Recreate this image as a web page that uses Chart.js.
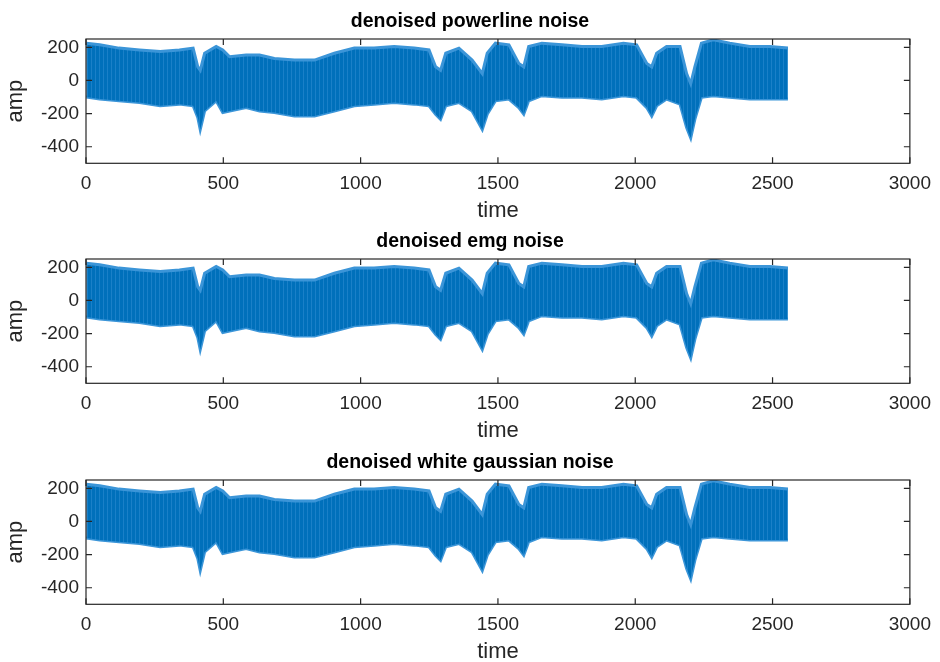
<!DOCTYPE html>
<html>
<head>
<meta charset="utf-8">
<script src="https://cdn.jsdelivr.net/npm/chart.js@4/dist/chart.umd.min.js"></script>
<style>
  html, body { margin: 0; padding: 0; background: #fff; overflow: hidden; }
  body { width: 940px; height: 662px; position: relative; }
  .panel { position: absolute; left: 0; width: 940px; height: 240px; }
</style>
</head>
<body>
<div class="panel" style="top:0px"><canvas id="c0"></canvas></div>
<div class="panel" style="top:220px"><canvas id="c1"></canvas></div>
<div class="panel" style="top:441px"><canvas id="c2"></canvas></div>
<script>
// envelope of the dense signal (same in all three panels)
const timePoints = [1, 50, 120, 195, 270, 340, 390, 407, 416, 432, 474, 498, 523, 583, 632,
  686, 759, 832, 904, 977, 1049, 1122, 1195, 1249, 1273, 1291, 1310, 1358, 1406, 1443, 1461,
  1491, 1540, 1576, 1594, 1612, 1660, 1733, 1806, 1878, 1957, 2005, 2042, 2060, 2078, 2114,
  2163, 2187, 2202, 2217, 2241, 2284, 2344, 2417, 2490, 2556];
const upperAmp = [225, 215, 195, 184, 174, 184, 195, 82, 61, 164, 205, 184, 143, 153, 153,
  133, 123, 123, 164, 195, 195, 205, 195, 184, 82, 61, 164, 195, 123, 41, 164,
  225, 215, 102, 82, 205, 225, 215, 205, 205, 225, 215, 102, 82, 164, 205,
  205, 41, -20, 82, 225, 245, 225, 205, 205, 195];
const lowerAmp = [-100, -112, -123, -133, -153, -143, -153, -223, -296, -184, -123, -194, -184, -164, -184,
  -194, -215, -215, -184, -153, -143, -133, -143, -153, -204, -235, -153, -133, -184, -296, -204,
  -123, -112, -164, -204, -123, -92, -102, -102, -112, -92, -102, -164, -215, -153, -112,
  -143, -284, -347, -235, -102, -92, -102, -112, -112, -112];

const panelTitles = ['denoised powerline noise', 'denoised emg noise', 'denoised white gaussian noise'];
const xTicks = [0, 500, 1000, 1500, 2000, 2500, 3000];
const yTicks = [-400, -200, 0, 200];

const lineBlue = '#0072BD';
const edgeBlue = '#3b95d8';
const axisColor = '#262626';

// vertical streaks so the band looks like a dense trace
function streakPattern() {
  const c = document.createElement('canvas');
  c.width = 4; c.height = 1;
  const g = c.getContext('2d');
  g.fillStyle = '#0070bb'; g.fillRect(0, 0, 4, 1);
  g.fillStyle = '#1a80c8'; g.fillRect(3, 0, 1, 1);
  return g.createPattern(c, 'repeat');
}

// box + inward tick marks, MATLAB style
const boxPlugin = {
  id: 'boxPlugin',
  afterDraw(chart) {
    const { ctx, chartArea: a, scales } = chart;
    const len = 6;
    ctx.save();
    ctx.strokeStyle = axisColor;
    ctx.lineWidth = 1.2;
    ctx.strokeRect(a.left, a.top, a.right - a.left, a.bottom - a.top);
    ctx.beginPath();
    xTicks.forEach(v => {
      const px = scales.x.getPixelForValue(v);
      ctx.moveTo(px, a.bottom); ctx.lineTo(px, a.bottom - len);
      ctx.moveTo(px, a.top); ctx.lineTo(px, a.top + len);
    });
    yTicks.forEach(v => {
      const py = scales.y.getPixelForValue(v);
      ctx.moveTo(a.left, py); ctx.lineTo(a.left + len, py);
      ctx.moveTo(a.right, py); ctx.lineTo(a.right - len, py);
    });
    ctx.stroke();
    ctx.restore();
  }
};

const tickFont = { family: 'Liberation Sans, Arial, sans-serif', size: 19 };
const labelFont = { family: 'Liberation Sans, Arial, sans-serif', size: 22 };

panelTitles.forEach((title, i) => {
  const upper = timePoints.map((t, k) => ({ x: t, y: upperAmp[k] }));
  const lower = timePoints.map((t, k) => ({ x: t, y: lowerAmp[k] }));
  new Chart(document.getElementById('c' + i), {
    type: 'line',
    data: {
      datasets: [
        { data: upper, borderColor: edgeBlue, borderWidth: 3, backgroundColor: streakPattern(),
          fill: '+1', pointRadius: 0, tension: 0 },
        { data: lower, borderColor: edgeBlue, borderWidth: 3, backgroundColor: lineBlue,
          fill: false, pointRadius: 0, tension: 0 }
      ]
    },
    options: {
      responsive: true,
      maintainAspectRatio: false,
      animation: false,
      layout: { padding: 0 },
      plugins: {
        legend: { display: false },
        tooltip: { enabled: false },
        title: {
          display: true,
          text: title,
          color: '#000',
          font: { family: 'Liberation Sans, Arial, sans-serif', size: 19.5, weight: 'bold', lineHeight: 1.2 },
          padding: { top: 10, bottom: 5.6 }
        }
      },
      scales: {
        x: {
          type: 'linear',
          min: 0, max: 3000,
          afterFit: s => { s.height = 76.7; },
          afterBuildTicks: s => { s.ticks = xTicks.map(v => ({ value: v })); },
          grid: { display: false, drawTicks: false },
          border: { display: false },
          ticks: { color: axisColor, font: tickFont, padding: 9, maxRotation: 0, autoSkip: false,
                   callback: v => String(v) },
          title: { display: true, text: 'time', color: axisColor, font: labelFont, padding: { top: 0, bottom: 15.8 } }
        },
        y: {
          min: -500, max: 250,
          afterFit: s => { s.width = 86; },
          afterBuildTicks: s => { s.ticks = yTicks.map(v => ({ value: v })); },
          grid: { display: false, drawTicks: false },
          border: { display: false },
          ticks: { color: axisColor, font: tickFont, padding: 7, callback: v => String(v) },
          title: { display: true, text: 'amp', color: axisColor, font: labelFont, padding: { top: 3, bottom: 0 } }
        },
        yRight: {
          position: 'right',
          min: -500, max: 250,
          afterFit: s => { s.width = 23; },
          grid: { display: false, drawTicks: false },
          border: { display: false },
          ticks: { display: false }
        }
      }
    },
    plugins: [boxPlugin]
  });
});
</script>
</body>
</html>
